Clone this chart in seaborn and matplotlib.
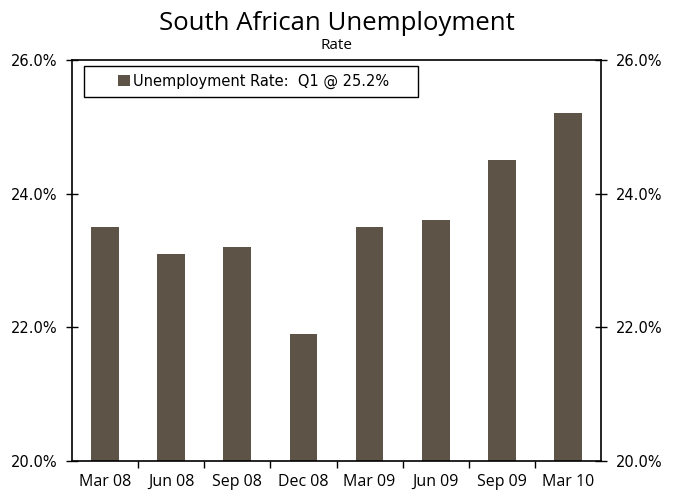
import matplotlib
matplotlib.use("Agg")
import matplotlib.pyplot as plt
from matplotlib.ticker import FixedLocator, FuncFormatter
from matplotlib.patches import Patch, Rectangle
import seaborn as sns
import pandas as pd

quarters = ["Mar 08", "Jun 08", "Sep 08", "Dec 08", "Mar 09", "Jun 09", "Sep 09", "Mar 10"]
rates = [23.5, 23.1, 23.2, 21.9, 23.5, 23.6, 24.5, 25.2]
y_ticks = [20.0, 22.0, 24.0, 26.0]

bar_color = "#5E5347"

sns.set_theme(style="white")
plt.rcParams["font.family"] = ["DejaVu Sans"]
plt.rcParams["text.color"] = "black"

df = pd.DataFrame({"quarter": quarters, "rate": rates})

W, H = 676, 492
fig = plt.figure(figsize=(W / 100, H / 100), dpi=100)
ax_l, ax_r, ax_t, ax_b = 72, 601, 60, 461
ax = fig.add_axes([ax_l / W, 1 - ax_b / H, (ax_r - ax_l) / W, (ax_b - ax_t) / H])

sns.barplot(data=df, x="quarter", y="rate", color=bar_color, width=0.42,
            saturation=1, linewidth=0, ax=ax, zorder=2)

ax.set_ylim(20, 26)
ax.set_xlim(-0.5, len(quarters) - 0.5)
ax.set_xlabel("")
ax.set_ylabel("")

pct = FuncFormatter(lambda v, _: f"{v:.1f}%")
ax.yaxis.set_major_locator(FixedLocator(y_ticks))
ax.yaxis.set_major_formatter(pct)
ax.tick_params(axis="y", which="major", direction="inout", length=9, width=1,
               color="black", labelsize=10.5, labelcolor="black", pad=6,
               left=True, right=True, labelleft=True, labelright=True)

# category labels centred under bars, ticks on the boundaries between them
ax.set_xticks(range(len(quarters)))
ax.set_xticklabels(quarters, family="Open Sans")
ax.tick_params(axis="x", which="major", length=0, labelsize=11.5,
               labelcolor="black", pad=9)
ax.set_xticks([i + 0.5 for i in range(len(quarters) - 1)], minor=True)
ax.tick_params(axis="x", which="minor", direction="out", length=5, width=1,
               color="black", bottom=True)

for s in ax.spines.values():
    s.set_visible(True)
    s.set_color("black")
    s.set_linewidth(1.2)

cx = (ax_l + ax_r) / 2 / W
fig.text(cx, 1 - 30 / H, "South African Unemployment", ha="center",
         va="baseline", fontsize=18.5, family="Open Sans", color="black")
fig.text(cx, 1 - 49 / H, "Rate", ha="center", va="baseline", fontsize=11,
         family="Open Sans", color="black")

# legend: framed box with the entry set inside it
box_x0, box_x1, box_y0, box_y1 = 84, 418, 66, 97
to_ax = lambda px, py: ((px - ax_l) / (ax_r - ax_l), (ax_b - py) / (ax_b - ax_t))
bx, by = to_ax(box_x0, box_y1)
bw = (box_x1 - box_x0) / (ax_r - ax_l)
bh = (box_y1 - box_y0) / (ax_b - ax_t)
ax.add_patch(Rectangle((bx, by), bw, bh, transform=ax.transAxes,
                       facecolor="white", edgecolor="black", linewidth=1.0,
                       zorder=5, clip_on=False))

handle = Patch(facecolor=bar_color, edgecolor="none")
ex, ey = to_ax(118, (box_y0 + box_y1) / 2)
leg = ax.legend([handle], ["Unemployment Rate:  Q1 @ 25.2%"],
                loc="center left", bbox_to_anchor=(ex, ey),
                frameon=False, fontsize=10.5,
                handlelength=0.8, handleheight=0.8, handletextpad=0.2,
                borderpad=0.0, borderaxespad=0.0)
leg.set_zorder(6)

fig.savefig("out.png", dpi=100)
